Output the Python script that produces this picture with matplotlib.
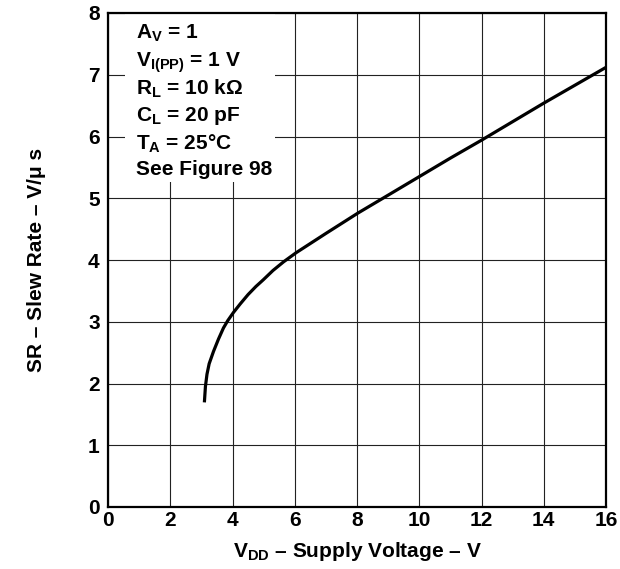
import matplotlib
matplotlib.use("Agg")
import matplotlib.pyplot as plt
from matplotlib.patches import Rectangle

plt.rcParams['font.family'] = ['Liberation Sans', 'DejaVu Sans']
plt.rcParams['font.weight'] = 'bold'
plt.rcParams['mathtext.fontset'] = 'custom'
plt.rcParams['mathtext.rm'] = 'Liberation Sans:bold'
plt.rcParams['mathtext.bf'] = 'Liberation Sans:bold'

# slew rate vs supply voltage
vdd = [3.1, 3.13, 3.18, 3.25, 3.39, 3.55, 3.71, 3.85, 4.03, 4.25, 4.5, 4.75, 4.99, 5.3, 5.64, 6.05, 7.0, 8.03, 9.0, 10.0, 11.0, 12.0, 13.0, 14.0, 15.0, 16.0]
sr = [1.72, 1.95, 2.15, 2.32, 2.52, 2.72, 2.90, 3.02, 3.15, 3.29, 3.44, 3.57, 3.68, 3.83, 3.97, 4.12, 4.43, 4.76, 5.05, 5.35, 5.65, 5.94, 6.24, 6.54, 6.83, 7.12]

xticks = [0, 2, 4, 6, 8, 10, 12, 14, 16]
yticks = [0, 1, 2, 3, 4, 5, 6, 7, 8]
conditions = [r'A$_\mathrm{V}$ = 1',
              r'V$_\mathrm{I(PP)}$ = 1 V',
              r'R$_\mathrm{L}$ = 10 kΩ',
              r'C$_\mathrm{L}$ = 20 pF',
              r'T$_\mathrm{A}$ = 25°C',
              'See Figure 98']

fs = 15
fig = plt.figure(figsize=(6.2, 5.69), dpi=100)
ax = fig.add_axes([108/620, 62/569, 498/620, 494/569])

ax.plot(vdd, sr, color='black', linewidth=2.3, zorder=4)

ax.set_xlim(0, 16)
ax.set_ylim(0, 8)
ax.set_xticks(xticks)
ax.set_yticks(yticks)
ax.tick_params(length=0, labelsize=fs)
ax.tick_params(axis='x', pad=3)
ax.tick_params(axis='y', pad=6)
for lbl in ax.get_xticklabels() + ax.get_yticklabels():
    lbl.set_fontweight('bold')
ax.grid(True, color='#222222', linewidth=0.8)
ax.set_axisbelow(True)
for s in ax.spines.values():
    s.set_linewidth(1.6)

ax.set_xlabel(r'V$_\mathrm{DD}$ – Supply Voltage – V', fontsize=fs, fontweight='bold', labelpad=7)
ax.set_ylabel('SR – Slew Rate – V/μ s', fontsize=fs, fontweight='bold', labelpad=30)

# white box behind the test conditions
ax.add_patch(Rectangle((0.034, 0.658), 0.301, 0.342, transform=ax.transAxes,
                       facecolor='white', edgecolor='none', zorder=2))
for i, t in enumerate(conditions):
    ax.text(0.057, 0.980 - i * 0.0555, t, transform=ax.transAxes, fontsize=fs,
            fontweight='bold', va='top', ha='left', zorder=3)

fig.savefig('out.png', dpi=100)
